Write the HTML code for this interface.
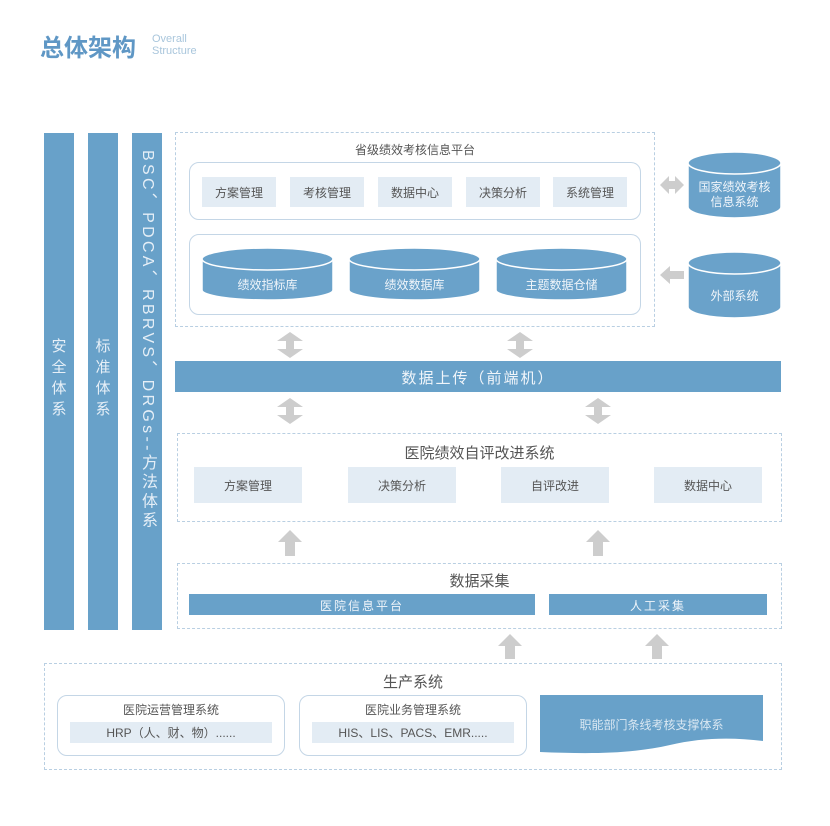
<!DOCTYPE html>
<html><head><meta charset="utf-8"><style>
body{margin:0;background:#fff;width:830px;height:826px;overflow:hidden;position:relative;font-family:"Liberation Sans","Noto Sans CJK SC",sans-serif;}
.a{position:absolute;box-sizing:border-box;}
.t{position:absolute;text-align:center;color:#555;}
.lb{background:#e3ecf4;color:#555;font-size:12px;display:flex;align-items:center;justify-content:center;position:absolute;}
.bar{background:#68a1c9;position:absolute;}
.dash{position:absolute;border:1.3px dashed #b9cfe2;box-sizing:border-box;}
.rb{position:absolute;border:1px solid #c4d6e6;border-radius:10px;box-sizing:border-box;}
</style></head><body>
<div class="a" style="left:40px;top:28px;font-size:24px;font-weight:bold;color:#5f97c5;">总体架构</div>
<div class="a" style="left:152px;top:33px;font-size:11px;color:#a9c6dc;line-height:12px;">Overall<br>Structure</div>

<div class="bar" style="left:44px;top:133px;width:30px;height:497px;"></div>
<div class="bar" style="left:88px;top:133px;width:30px;height:497px;"></div>
<div class="bar" style="left:132px;top:133px;width:30px;height:497px;"></div>
<div class="a" style="left:44px;top:336px;width:30px;color:#e6eff7;font-size:15px;text-align:center;line-height:21px;">安<br>全<br>体<br>系</div>
<div class="a" style="left:88px;top:336px;width:30px;color:#e6eff7;font-size:15px;text-align:center;line-height:21px;">标<br>准<br>体<br>系</div>
<div class="a" style="left:132px;top:150px;width:30px;height:410px;writing-mode:vertical-rl;color:#e6eff7;font-size:16px;display:flex;align-items:center;letter-spacing:3.3px;">BSC、PDCA、RBRVS、DRGs--方法体系</div>

<div class="dash" style="left:175px;top:132px;width:480px;height:195px;"></div>
<div class="t" style="left:175px;top:141px;width:480px;font-size:12px;">省级绩效考核信息平台</div>
<div class="rb" style="left:189px;top:162px;width:452px;height:58px;"></div>
<div class="lb" style="left:202px;top:177px;width:74px;height:30px;">方案管理</div>
<div class="lb" style="left:290px;top:177px;width:74px;height:30px;">考核管理</div>
<div class="lb" style="left:378px;top:177px;width:74px;height:30px;">数据中心</div>
<div class="lb" style="left:466px;top:177px;width:74px;height:30px;">决策分析</div>
<div class="lb" style="left:553px;top:177px;width:74px;height:30px;">系统管理</div>
<div class="rb" style="left:189px;top:234px;width:452px;height:81px;"></div>

<svg class="a" style="left:0;top:0" width="830" height="826">
<g fill="#6aa2ca" stroke="#fff" stroke-width="1.5">
<path d="M202 259 L202 290 A65.5 10 0 0 0 333 290 L333 259 Z"/><ellipse cx="267.5" cy="259" rx="65.5" ry="11"/>
<path d="M349 259 L349 290 A65.5 10 0 0 0 480 290 L480 259 Z"/><ellipse cx="414.5" cy="259" rx="65.5" ry="11"/>
<path d="M496 259 L496 290 A65.5 10 0 0 0 627 290 L627 259 Z"/><ellipse cx="561.5" cy="259" rx="65.5" ry="11"/>
<path d="M688 163 L688 207 A46.5 11 0 0 0 781 207 L781 163 Z"/><ellipse cx="734.5" cy="163" rx="46.5" ry="11"/>
<path d="M688 263 L688 307 A46.5 11 0 0 0 781 307 L781 263 Z"/><ellipse cx="734.5" cy="263" rx="46.5" ry="11"/>
</g>
<g fill="#cdcdcd">
<path d="M660 185 L669 176 L669 181 L675 181 L675 176 L684 185 L675 194 L675 189 L669 189 L669 194 Z"/>
<path d="M660 275 L670 266 L670 271 L684 271 L684 279 L670 279 L670 284 Z"/>
<path d="M290 332 L303 341 L294 341 L294 349 L303 349 L290 358 L277 349 L286 349 L286 341 L277 341 Z"/>
<path d="M520 332 L533 341 L524 341 L524 349 L533 349 L520 358 L507 349 L516 349 L516 341 L507 341 Z"/>
<path d="M290 398 L303 407 L294 407 L294 415 L303 415 L290 424 L277 415 L286 415 L286 407 L277 407 Z"/>
<path d="M598 398 L611 407 L602 407 L602 415 L611 415 L598 424 L585 415 L594 415 L594 407 L585 407 Z"/>
<path d="M290 530 L302 542 L295 542 L295 556 L285 556 L285 542 L278 542 Z"/>
<path d="M598 530 L610 542 L603 542 L603 556 L593 556 L593 542 L586 542 Z"/>
<path d="M510 634 L522 646 L515 646 L515 659 L505 659 L505 646 L498 646 Z"/>
<path d="M657 634 L669 646 L662 646 L662 659 L652 659 L652 646 L645 646 Z"/>
</g>
<path d="M540 695 L763 695 L763 741 C730 737 700 738 670 745 C630 754 590 754 540 752 Z" fill="#68a1c9"/>
</svg>
<div class="t" style="left:202px;top:276px;width:131px;font-size:12px;color:#f0f5fa;">绩效指标库</div>
<div class="t" style="left:349px;top:276px;width:131px;font-size:12px;color:#f0f5fa;">绩效数据库</div>
<div class="t" style="left:496px;top:276px;width:131px;font-size:12px;color:#f0f5fa;">主题数据仓储</div>
<div class="t" style="left:688px;top:180px;width:93px;font-size:12px;color:#f0f5fa;line-height:15px;">国家绩效考核<br>信息系统</div>
<div class="t" style="left:688px;top:287px;width:93px;font-size:12px;color:#f0f5fa;">外部系统</div>

<div class="bar" style="left:175px;top:361px;width:606px;height:31px;"></div>
<div class="t" style="left:175px;top:367px;width:606px;font-size:15px;color:#f0f5fa;letter-spacing:2px;">数据上传（前端机）</div>

<div class="dash" style="left:177px;top:433px;width:605px;height:89px;"></div>
<div class="t" style="left:177px;top:442px;width:605px;font-size:15px;">医院绩效自评改进系统</div>
<div class="lb" style="left:194px;top:467px;width:108px;height:36px;">方案管理</div>
<div class="lb" style="left:348px;top:467px;width:108px;height:36px;">决策分析</div>
<div class="lb" style="left:501px;top:467px;width:108px;height:36px;">自评改进</div>
<div class="lb" style="left:654px;top:467px;width:108px;height:36px;">数据中心</div>

<div class="dash" style="left:177px;top:563px;width:605px;height:66px;"></div>
<div class="t" style="left:177px;top:570px;width:605px;font-size:15px;">数据采集</div>
<div class="bar" style="left:189px;top:594px;width:346px;height:21px;"></div>
<div class="bar" style="left:549px;top:594px;width:218px;height:21px;"></div>
<div class="t" style="left:189px;top:597px;width:346px;font-size:12px;color:#f0f5fa;letter-spacing:2px;">医院信息平台</div>
<div class="t" style="left:549px;top:597px;width:218px;font-size:12px;color:#f0f5fa;letter-spacing:2px;">人工采集</div>

<div class="dash" style="left:44px;top:663px;width:738px;height:107px;"></div>
<div class="t" style="left:44px;top:671px;width:738px;font-size:15px;">生产系统</div>
<div class="rb" style="left:57px;top:695px;width:228px;height:61px;"></div>
<div class="rb" style="left:299px;top:695px;width:228px;height:61px;"></div>
<div class="t" style="left:57px;top:701px;width:228px;font-size:12px;">医院运营管理系统</div>
<div class="t" style="left:299px;top:701px;width:228px;font-size:12px;">医院业务管理系统</div>
<div class="lb" style="left:70px;top:722px;width:202px;height:21px;">HRP（人、财、物）......</div>
<div class="lb" style="left:312px;top:722px;width:202px;height:21px;">HIS、LIS、PACS、EMR.....</div>
<div class="t" style="left:540px;top:716px;width:223px;font-size:12px;color:#d9e7f2;">职能部门条线考核支撑体系</div>
</body></html>
